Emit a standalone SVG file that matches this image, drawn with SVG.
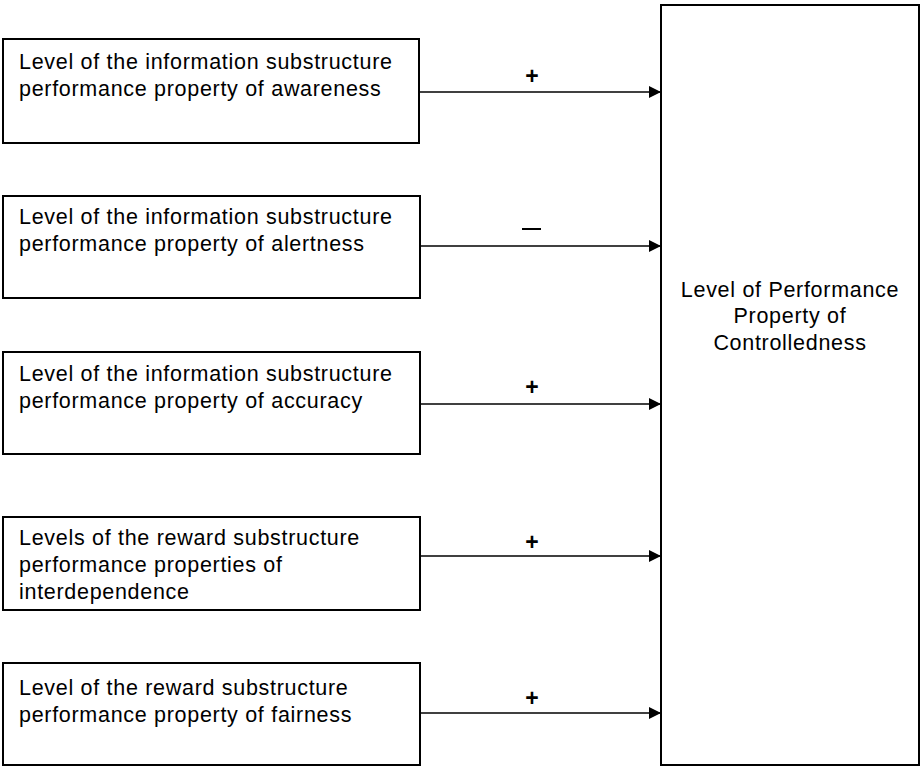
<svg xmlns="http://www.w3.org/2000/svg" width="922" height="767" viewBox="0 0 922 767">
<style>
.box{fill:#fff;stroke:#000;stroke-width:2}
.t{font-family:"Liberation Sans",Arial,sans-serif;font-size:21.5px;letter-spacing:0.7px;fill:#000}
.c{text-anchor:middle}
.line{stroke:#000;stroke-width:1.5;fill:none}
.sign{font-family:"Liberation Sans",Arial,sans-serif;font-size:23px;font-weight:bold;text-anchor:middle;fill:#000}
</style>
<defs>
<marker id="ah" markerUnits="userSpaceOnUse" markerWidth="14" markerHeight="12" refX="12" refY="6" orient="auto">
<path d="M0,0 L12,6 L0,12 Z" fill="#000"/>
</marker>
</defs>
<rect width="922" height="767" fill="#fff"/>
<g id="n1"><rect class="box" x="3" y="39" width="416" height="104"/>
<text class="t" x="19" y="69">Level of the information substructure</text>
<text class="t" x="19" y="96">performance property of awareness</text></g>
<g id="n2"><rect class="box" x="3" y="196" width="417" height="102"/>
<text class="t" x="19" y="224">Level of the information substructure</text>
<text class="t" x="19" y="251">performance property of alertness</text></g>
<g id="n3"><rect class="box" x="3" y="352" width="417" height="102"/>
<text class="t" x="19" y="381">Level of the information substructure</text>
<text class="t" x="19" y="408">performance property of accuracy</text></g>
<g id="n4"><rect class="box" x="3" y="517" width="417" height="93"/>
<text class="t" x="19" y="545">Levels of the reward substructure</text>
<text class="t" x="19" y="572">performance properties of</text>
<text class="t" x="19" y="599">interdependence</text></g>
<g id="n5"><rect class="box" x="3" y="663" width="417" height="102"/>
<text class="t" x="19" y="695">Level of the reward substructure</text>
<text class="t" x="19" y="722">performance property of fairness</text></g>
<g id="target"><rect class="box" x="661" y="5" width="258" height="760"/>
<text class="t c" x="790" y="297">Level of Performance</text>
<text class="t c" x="790" y="323">Property of</text>
<text class="t c" x="790" y="350">Controlledness</text></g>
<g id="connectors">
<line class="line" x1="419" y1="92" x2="661" y2="92" marker-end="url(#ah)"/>
<line class="line" x1="420" y1="246" x2="661" y2="246" marker-end="url(#ah)"/>
<line class="line" x1="420" y1="404" x2="661" y2="404" marker-end="url(#ah)"/>
<line class="line" x1="420" y1="556" x2="661" y2="556" marker-end="url(#ah)"/>
<line class="line" x1="420" y1="713" x2="661" y2="713" marker-end="url(#ah)"/>
<text class="sign" x="532" y="84">+</text>
<rect x="522" y="228" width="19" height="2" fill="#000"/>
<text class="sign" x="532" y="395">+</text>
<text class="sign" x="532" y="550">+</text>
<text class="sign" x="532" y="706">+</text>
</g>
</svg>
